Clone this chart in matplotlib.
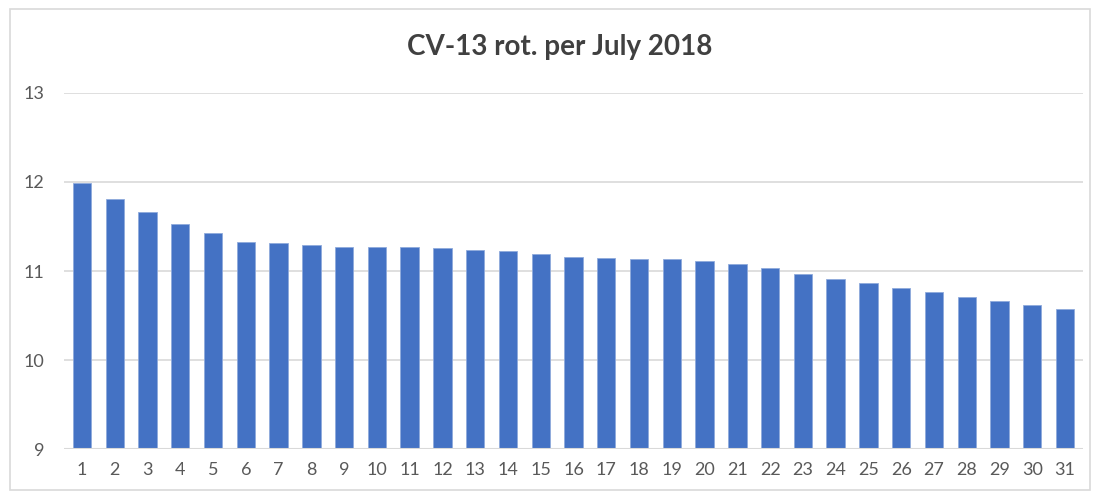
import numpy as np
import matplotlib.pyplot as plt
from matplotlib.patches import Rectangle

plt.rcParams['font.family'] = ['Lato', 'DejaVu Sans']

# CV-13 rotations, July 2018
days = np.arange(1, 32)
rot = [11.99, 11.81, 11.66, 11.53, 11.43, 11.33, 11.31, 11.29, 11.27, 11.27,
       11.27, 11.26, 11.24, 11.22, 11.19, 11.16, 11.15, 11.14, 11.13, 11.11,
       11.08, 11.03, 10.97, 10.91, 10.86, 10.81, 10.76, 10.71, 10.66, 10.62,
       10.57]
yticks = [9, 10, 11, 12, 13]

fig = plt.figure(figsize=(10.97, 4.98), dpi=100)
ax = fig.add_axes([64/1097, 1 - 449/498, (1083 - 64)/1097, (449 - 93)/498])

ax.bar(days, np.array(rot) - 9, bottom=9, width=0.56, color='#4472c4',
       edgecolor='#8faadc', linewidth=0.6, zorder=2)

ax.set_ylim(9, 13)
ax.set_xlim(0.45, 31.55)
ax.set_yticks(yticks)
ax.set_xticks(days)
ax.grid(axis='y', color='#d9d9d9', linewidth=1.2, zorder=0)
ax.axhline(9, color='#d9d9d9', linewidth=1.5, zorder=3)
for s in ax.spines.values():
    s.set_visible(False)
ax.tick_params(length=0, labelsize=13, labelcolor='#595959')
ax.tick_params(axis='y', pad=14)
ax.tick_params(axis='x', pad=9)

fig.text(560/1097, 1 - 47/498, 'CV-13 rot. per July 2018', ha='center',
         va='center', fontsize=20, fontweight='bold', color='#404040')

fig.patches.append(Rectangle((10/1097, 1 - 490/498), 1080/1097, 481/498,
                             transform=fig.transFigure, fill=False,
                             edgecolor='#d9d9d9', linewidth=1.2))

fig.savefig('out.png', dpi=100)
